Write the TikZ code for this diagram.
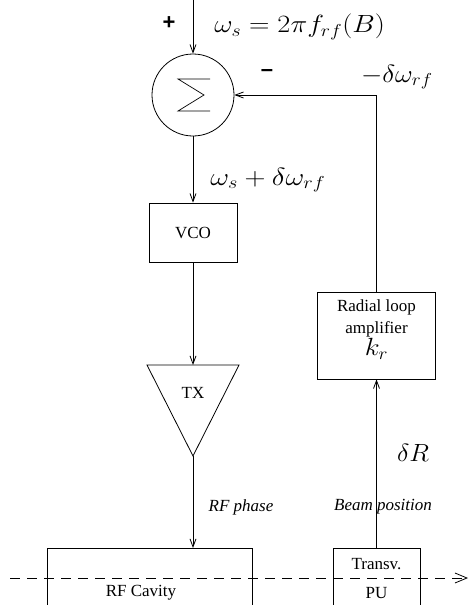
\documentclass[tikz,border=0pt]{standalone}
\usepackage{graphicx}
\usepackage{fontspec}
\setmainfont{Liberation Serif}
\setsansfont{Liberation Sans}
\usetikzlibrary{arrows.meta}
\newcommand{\widemath}[2]{\scalebox{#1}[1]{$#2$}}
\begin{document}
\begin{tikzpicture}[x=1pt,y=-1pt,
  line width=0.8pt,
  sig/.style={-{Straight Barb[length=8pt,width=6pt]}},
  blk/.style={draw,inner sep=0pt},
  txt/.style={font=\fontsize{17}{20}\selectfont,inner sep=0pt},
  itl/.style={font=\fontsize{17}{20}\selectfont\itshape,inner sep=0pt},
  mth/.style={font=\fontsize{25}{30}\selectfont,inner sep=0pt},
  sgn/.style={font=\fontsize{22}{24}\selectfont\sffamily\bfseries,inner sep=0pt}]
\useasboundingbox (0,0) rectangle (470,605);

% summing junction
\node[draw,circle,minimum size=82pt,inner sep=0pt] (sum) at (193,95) {};
\draw[line width=0.7pt] (210,79) -- (178,79) -- (204,95) -- (178,111) -- (210,111);
\coordinate (in) at (193,0);
\draw[sig] (in) -- (sum.north);

% forward path
\node[blk,minimum width=88pt,minimum height=59pt,txt] (vco) at (193,232.5) {VCO};
\coordinate (txl) at (147,365);
\coordinate (txr) at (239,365);
\coordinate (txtop) at (193,365);
\coordinate (txapex) at (193,456);
\draw (txl) -- (txr) -- (txapex) -- cycle;
\node[txt] (tx) at (193,393) {TX};

\coordinate (cav) at (193,548);
\coordinate (pu) at (376.5,548);
\draw (47,610) -- (47,548) -- (252,548) -- (252,610);
\draw (333,610) -- (333,548) -- (420,548) -- (420,610);
\node[txt] (cavlbl) at (141,593) {RF Cavity};
\node[txt] (putop) at (376.5,564) {Transv.};
\node[txt] (pubot) at (376.5,593) {PU};

\draw[sig] (sum.south) -- (vco.north);
\draw[sig] (vco.south) -- (txtop);
\draw[sig] (txapex) -- (cav);

% feedback path
\node[blk,minimum width=118pt,minimum height=87pt] (amp) at (376.5,335.5) {};
\node[txt] (amp1) at (376.5,307) {Radial loop};
\node[txt] (amp2) at (376.5,329) {amplifier};
\node[mth] (kr) at (376.5,349) {\widemath{1.1}{k_r}};
\draw[sig] (pu) -- (amp.south);
\draw[sig] (amp.north) |- (sum.east);

% beam axis
\coordinate (b0) at (10,578);
\coordinate (b1) at (468,578);
\draw[dashed,dash pattern=on 10pt off 7pt,-{Straight Barb[length=12pt,width=10pt]}] (b0) -- (b1);

% labels
\node[sgn] (plus) at (169,23) {+};
\node[sgn] (minus) at (267,73) {\textendash};
\node[mth,anchor=west] (ws) at (214,27) {\widemath{1.14}{\omega_s = 2\pi f_{rf}(B)}};
\node[mth,anchor=east] (dw) at (433,77) {\widemath{1.1}{-\delta\omega_{rf}}};
\node[mth,anchor=west] (wsd) at (210,180) {\widemath{1.17}{\omega_s + \delta\omega_{rf}}};
\node[mth] (dR) at (413,453) {\widemath{1.05}{\delta R}};
\node[itl] (phase) at (241,507) {RF phase};
\node[itl] (bpos) at (383,507) {Beam position};
\end{tikzpicture}
\end{document}
